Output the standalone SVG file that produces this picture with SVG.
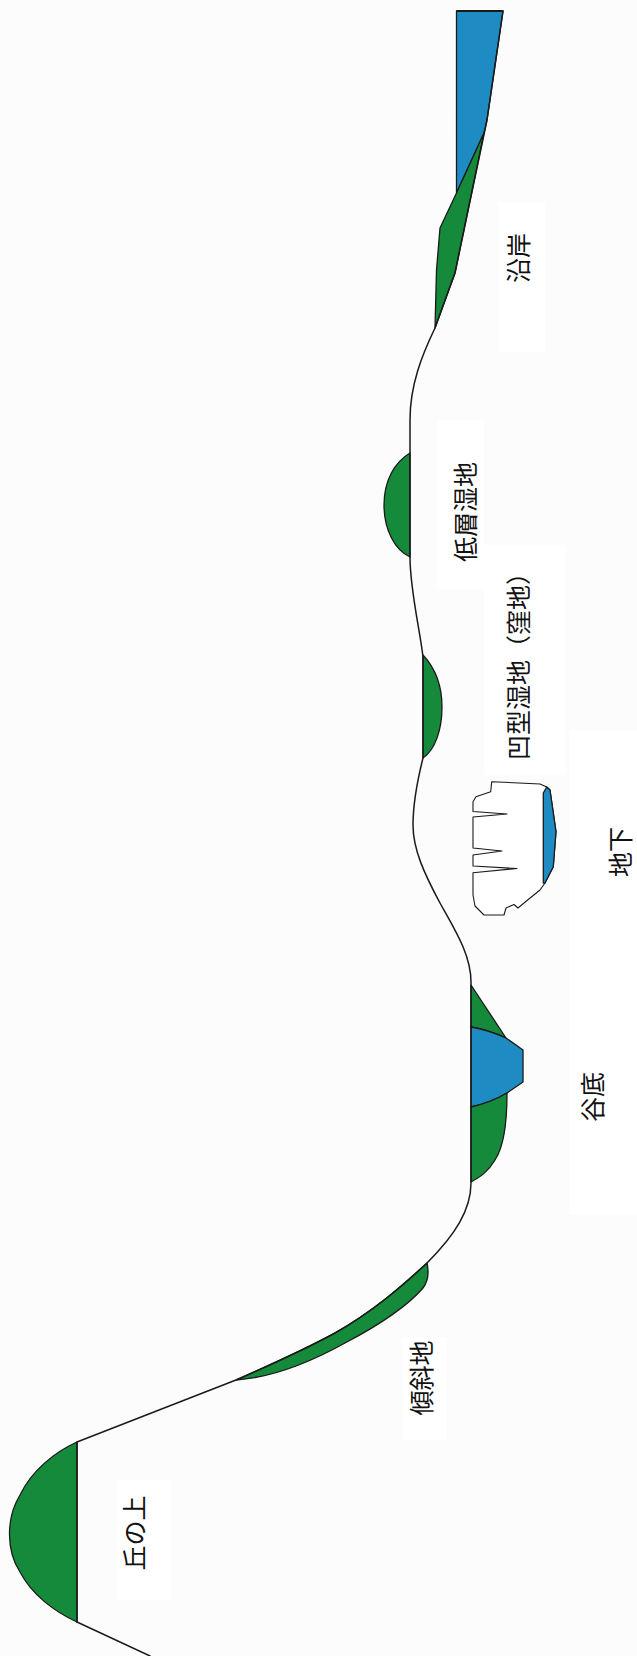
<svg xmlns="http://www.w3.org/2000/svg" width="637" height="1656" viewBox="0 0 637 1656">
  <style>
    .veg { fill: #168a3b; stroke: #1a1a1a; stroke-width: 1.3; stroke-linejoin: round; }
    .water { fill: #1e8bc3; stroke: #1a1a1a; stroke-width: 1.3; stroke-linejoin: round; }
    .ground { fill: none; stroke: #1a1a1a; stroke-width: 1.5; stroke-linejoin: round; stroke-linecap: round; }
    .cave { fill: #ffffff; stroke: #1a1a1a; stroke-width: 1.1; stroke-linejoin: round; }
    .lbl { font-family: "Noto Sans CJK JP", "Noto Sans", sans-serif; font-size: 25px; fill: #111111; text-anchor: middle; dominant-baseline: central; }
    .pad { fill: #ffffff; }
  </style>

  <!-- paper -->
  <rect x="0" y="0" width="637" height="1656" fill="#fcfcfc"/>

  <!-- light label pads -->
  <rect class="pad" x="498" y="202" width="47" height="150"/>
  <rect class="pad" x="437" y="420" width="47" height="170"/>
  <rect class="pad" x="484" y="545" width="81" height="230"/>
  <rect class="pad" x="569" y="730" width="68" height="485"/>
  <rect class="pad" x="402" y="1337" width="45" height="103"/>
  <rect class="pad" x="118" y="1480" width="53" height="120"/>

  <!-- shoreline: sea and fringe vegetation -->
  <g id="coast">
    <path class="water" d="M456.5,11 L503,11 L487,120 L484,133 L456.5,193 Z"/>
    <line x1="456.5" y1="11" x2="503" y2="11" stroke="#1a1a1a" stroke-width="2.2"/>
    <path class="veg" d="M484,133 L455,273 L435,328 L436.5,270 L440,228 L456.5,193 Z"/>
  </g>

  <!-- low-lying wetland -->
  <g id="low-wetland">
    <path class="veg" d="M410,453 C395,462 384,480 384,505 C384,530 395,550 410,557 Z"/>
  </g>

  <!-- depression wetland -->
  <g id="depression-wetland">
    <path class="veg" d="M423,655 C437,670 442,690 442,707 C442,730 435,750 423,758 Z"/>
  </g>

  <!-- underground cavity -->
  <g id="underground">
    <path class="cave" d="M491.7,781.7 L540,784 L546.7,787 L550,790 L556,831.7 L553.3,866.7 L545,883 L540,890 L527,900.5 L518,908 L514,904.5 L506,908 L504,915 L484,915 L475,906 L473,895 L473,872.7 L517,868.5 L473,866 L473,855 L502,851 L473,848 L473,817 L507,814 L473,811.5 L473,801.7 L476,796.7 L490.7,791.7 Z"/>
    <path class="water" stroke-width="1" d="M546.7,787 L550,790 L556,831.7 L553.3,866.7 L545,883 L543.3,883 L543.3,793 Z"/>
  </g>

  <!-- valley floor: stream with vegetated banks -->
  <g id="valley">
    <path class="veg" d="M471,985 L506,1038 C495,1033 483,1029 471,1027 Z"/>
    <path class="water" d="M471,1027 C483,1029 495,1033 506,1038 L523,1050 L523,1082 L507,1093 C497,1099 484,1104 471,1107 Z"/>
    <path class="veg" d="M507,1093 C507,1120 505,1145 495,1160 C488,1172 480,1177 471,1182 L471,1107 C484,1104 497,1099 507,1093 Z"/>
  </g>

  <!-- slope -->
  <g id="slope">
    <path class="veg" d="M427,1263 C400,1288 372,1312 335,1333 C300,1352 270,1365 236,1380 C265,1378 300,1368 345,1343 C385,1322 410,1303 423,1288 C429,1280 429,1272 427,1263 Z"/>
  </g>

  <!-- hilltop -->
  <g id="hilltop">
    <path class="veg" d="M77,1442 C55,1452 32,1470 20,1495 C6,1518 6,1550 20,1572 C32,1595 55,1612 77,1622 Z"/>
  </g>

  <!-- ground profile -->
  <g id="connectors">
    <path class="ground" d="M503,11 L487,120 L455,273 L435,328 C422,355 410,385 410,420 L410,557 C410,590 420,630 423,657 L423,758 C418,778 413,800 413,825 C413,850 425,875 440,903 C455,930 471,955 471,982 L471,1183 C471,1210 455,1235 427,1263 C400,1288 372,1312 335,1333 C300,1352 270,1365 236,1380 L77,1442 L77,1622 L150,1656"/>
  </g>

  <!-- labels -->
  <g id="labels">
    <text class="lbl" transform="translate(517,258) rotate(-90)">沿岸</text>
    <text class="lbl" transform="translate(463.5,512) rotate(-90)">低層湿地</text>
    <text class="lbl" transform="translate(517,660) rotate(-90)">凹型湿地（窪地）</text>
    <text class="lbl" font-size="23" transform="translate(619,852) rotate(-90)">地下</text>
    <text class="lbl" transform="translate(590.5,1097) rotate(-90)">谷底</text>
    <text class="lbl" transform="translate(420,1378) rotate(-90)">傾斜地</text>
    <text class="lbl" transform="translate(133,1533) rotate(-90)">丘の上</text>
  </g>
</svg>
